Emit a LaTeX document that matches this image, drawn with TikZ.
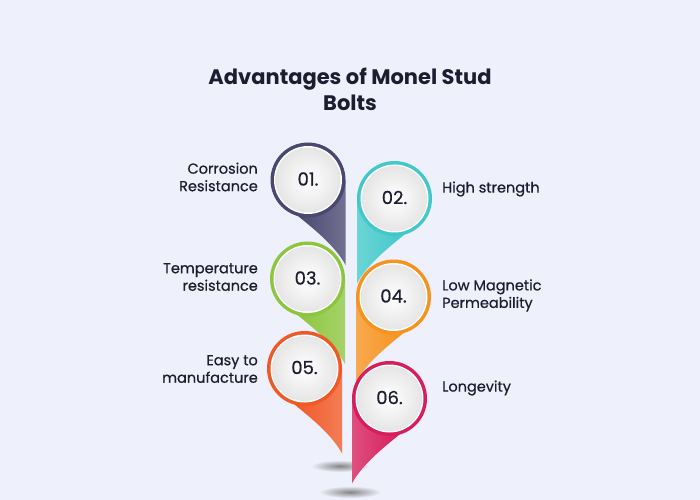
\documentclass[tikz,border=0pt]{standalone}
\usepackage{fontspec}
\setmainfont{Poppins}
\newfontfamily\medfont{Poppins}[FakeBold=0.6]

\definecolor{bgpage}{RGB}{238,240,251}
\definecolor{ink}{RGB}{28,29,48}
\definecolor{pinslate}{RGB}{74,72,112}
\definecolor{pincyan}{RGB}{66,200,202}
\definecolor{pingreen}{RGB}{140,198,63}
\definecolor{pinorange}{RGB}{246,146,30}
\definecolor{pinred}{RGB}{240,88,38}
\definecolor{pinpink}{RGB}{214,30,92}

\begin{document}
\begin{tikzpicture}[
  x=1bp, y=-1bp,
  title/.style={font=\fontsize{21bp}{26bp}\selectfont\bfseries, text=ink, align=center},
  num/.style={font=\medfont\fontsize{18bp}{20bp}\selectfont, text=ink},
  label/.style={font=\medfont\fontsize{14.5bp}{17.5bp}\selectfont, text=ink, inner sep=0pt},
  disc/.style={inner color=white, outer color=gray!20},
  groundshadow/.style={inner color=gray!95, outer color=bgpage}
]

% === Page ===
\fill[bgpage] (0,0) rectangle (700,500);
\useasboundingbox (0,0) rectangle (700,500);

% === Title ===
\node[title] (title) at (350,89) {Advantages of Monel Stud\\Bolts};

% === Ground shadows ===
\shade[groundshadow] (340,466) ellipse (29 and 6);
\shade[groundshadow] (350,492) ellipse (31 and 6);

% === Left pins (01, 03, 05) ===
\begin{scope}[shift={(308,180)}]
  \shade[left color=pinslate, middle color=pinslate, right color=pinslate!78!white]
    (37.5,0) -- (37.5,85) .. controls (27,65) and (2,46) .. (-10,36) -- (0,0) -- cycle;
  \fill[pinslate] (0,0) circle (37.5);
  \fill[white] (0,0) circle (34);
  \shade[disc] (0,0) circle (32.5);
  \node[num] (n1) at (0,-1) {01.};
\end{scope}
\begin{scope}[shift={(307.5,279)}]
  \shade[left color=pingreen, middle color=pingreen, right color=pingreen!78!white]
    (37.5,0) -- (37.5,85) .. controls (27,65) and (2,46) .. (-10,36) -- (0,0) -- cycle;
  \fill[pingreen] (0,0) circle (37.5);
  \fill[white] (0,0) circle (34);
  \shade[disc] (0,0) circle (32.5);
  \node[num] (n3) at (0,-1) {03.};
\end{scope}
\begin{scope}[shift={(304.5,368.5)}]
  \shade[left color=pinred, middle color=pinred, right color=pinred!78!white]
    (37.5,0) -- (37.5,85) .. controls (27,65) and (2,46) .. (-10,36) -- (0,0) -- cycle;
  \fill[pinred] (0,0) circle (37.5);
  \fill[white] (0,0) circle (34);
  \shade[disc] (0,0) circle (32.5);
  \node[num] (n5) at (0,-1) {05.};
\end{scope}

% === Right pins (02, 04, 06) ===
\begin{scope}[shift={(394.5,198.5)}]
  \shade[left color=pincyan!78!white, middle color=pincyan, right color=pincyan]
    (-37.5,0) -- (-37.5,85) .. controls (-27,65) and (-2,46) .. (10,36) -- (0,0) -- cycle;
  \fill[pincyan] (0,0) circle (37.5);
  \fill[white] (0,0) circle (34);
  \shade[disc] (0,0) circle (32.5);
  \node[num] (n2) at (0,-1) {02.};
\end{scope}
\begin{scope}[shift={(393.5,297)}]
  \shade[left color=pinorange!78!white, middle color=pinorange, right color=pinorange]
    (-37.5,0) -- (-37.5,85) .. controls (-27,65) and (-2,46) .. (10,36) -- (0,0) -- cycle;
  \fill[pinorange] (0,0) circle (37.5);
  \fill[white] (0,0) circle (34);
  \shade[disc] (0,0) circle (32.5);
  \node[num] (n4) at (0,-1) {04.};
\end{scope}
\begin{scope}[shift={(389.5,398.5)}]
  \shade[left color=pinpink!78!white, middle color=pinpink, right color=pinpink]
    (-37.5,0) -- (-37.5,85) .. controls (-27,65) and (-2,46) .. (10,36) -- (0,0) -- cycle;
  \fill[pinpink] (0,0) circle (37.5);
  \fill[white] (0,0) circle (34);
  \shade[disc] (0,0) circle (32.5);
  \node[num] (n6) at (0,-1) {06.};
\end{scope}

% === Left labels ===
\node[label, anchor=east, align=right] (lab1) at (258,177) {Corrosion\\Resistance};
\node[label, anchor=east, align=right] (lab3) at (258,277) {Temperature\\resistance};
\node[label, anchor=east, align=right] (lab5) at (258,369) {Easy to\\manufacture};

% === Right labels ===
\node[label, anchor=west, align=left] (lab2) at (442,189) {High strength};
\node[label, anchor=west, align=left] (lab4) at (442,295.5) {Low Magnetic\\Permeability};
\node[label, anchor=west, align=left] (lab6) at (442,388) {Longevity};

\end{tikzpicture}
\end{document}
